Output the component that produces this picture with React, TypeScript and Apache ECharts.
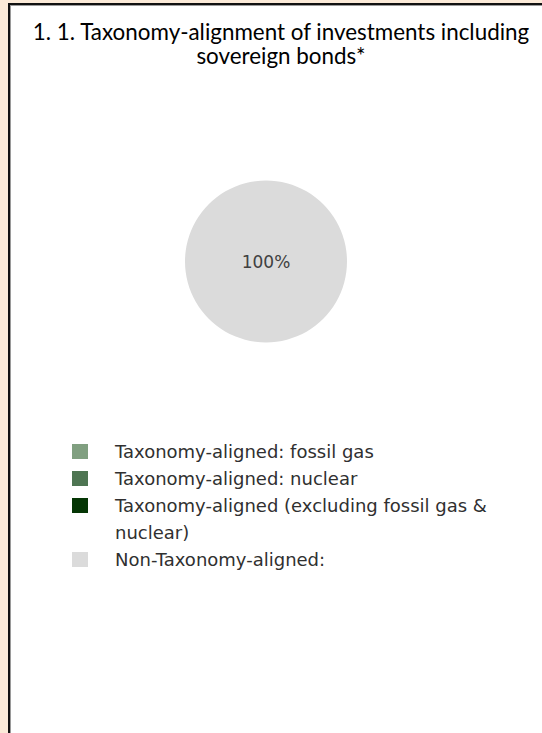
import React, { useEffect, useRef } from "react";
import * as echarts from "echarts";

const titleLines = ["1. 1. Taxonomy-alignment of investments including", "sovereign bonds*"];
const categories = [
  "Taxonomy-aligned: fossil gas",
  "Taxonomy-aligned: nuclear",
  "Taxonomy-aligned (excluding fossil gas & nuclear)",
  "Non-Taxonomy-aligned:",
];
const values = [0, 0, 0, 100];
const colors = ["#809f80", "#4e7552", "#053605", "#dbdbdb"];
const legendRows = [0, 1, 2, 4];

const TITLE_FONT = "Lato";
const BODY_FONT = "DejaVu Sans";

export default function App() {
  const ref = useRef<HTMLDivElement>(null);
  useEffect(() => {
    if (!ref.current) return;
    const chart = echarts.init(ref.current, null, { renderer: "svg" });
    const rowH = 27;
    const firstCenter = 451.5;
    const iconH = 15;
    const legends = categories.map((name, i) => {
      const c = firstCenter + rowH * legendRows[i];
      const wrapped = name.indexOf("& ") >= 0;
      // wrapped item: 3-line block (blank, line 1, line 2) so line 1 sits beside the icon
      const top = wrapped ? c - iconH / 2 - (rowH * 3) / 2 + iconH / 2 : c - rowH / 2;
      return {
        data: [name],
        orient: "vertical",
        left: 72,
        top,
        padding: 0,
        itemGap: 0,
        itemWidth: 16,
        itemHeight: iconH,
        icon: "rect",
        selectedMode: false,
        itemStyle: { borderWidth: 0 },
        formatter: (n: string) => (n.indexOf("& ") >= 0 ? "\n" + n.replace("& ", "&\n") : n),
        textStyle: {
          fontFamily: BODY_FONT,
          fontSize: 18,
          color: "#303030",
          lineHeight: rowH,
          padding: [0, 0, 0, 22],
        },
      };
    });
    chart.setOption({
      animation: false,
      color: colors,
      graphic: [
        {
          type: "text",
          x: 281,
          y: 19,
          silent: true,
          style: {
            text: titleLines.join("\n"),
            align: "center",
            verticalAlign: "top",
            fontFamily: TITLE_FONT,
            fontSize: 22.4,
            lineHeight: 24,
            fill: "#000",
          },
        },
      ],
      legend: legends,
      series: [
        {
          type: "pie",
          silent: true,
          center: [266, 261.5],
          radius: 81,
          itemStyle: { borderWidth: 0 },
          label: { show: false },
          labelLine: { show: false },
          data: categories.map((name, i) => ({
            name,
            value: values[i],
            itemStyle: { color: colors[i] },
            label:
              values[i] > 0
                ? {
                    show: true,
                    position: "center",
                    formatter: "{d}%",
                    fontFamily: BODY_FONT,
                    fontSize: 17,
                    color: "#404040",
                  }
                : { show: false },
          })),
        },
      ],
    });
    return () => chart.dispose();
  }, []);

  return (
    <div
      style={{
        position: "fixed",
        left: 0,
        top: 0,
        width: 542,
        height: 733,
        background: "#fbead8",
        overflow: "hidden",
      }}
    >
      <div
        style={{
          position: "absolute",
          left: 8,
          top: 3,
          width: 600,
          height: 760,
          background: "#fff",
          borderLeft: "2px solid #111",
          borderTop: "2px solid #111",
          boxShadow: "inset 1px 1px 0 #9a9a9a",
        }}
      />
      <div
        ref={ref}
        style={{ position: "absolute", left: 0, top: 0, width: 542, height: 733 }}
      />
    </div>
  );
}
